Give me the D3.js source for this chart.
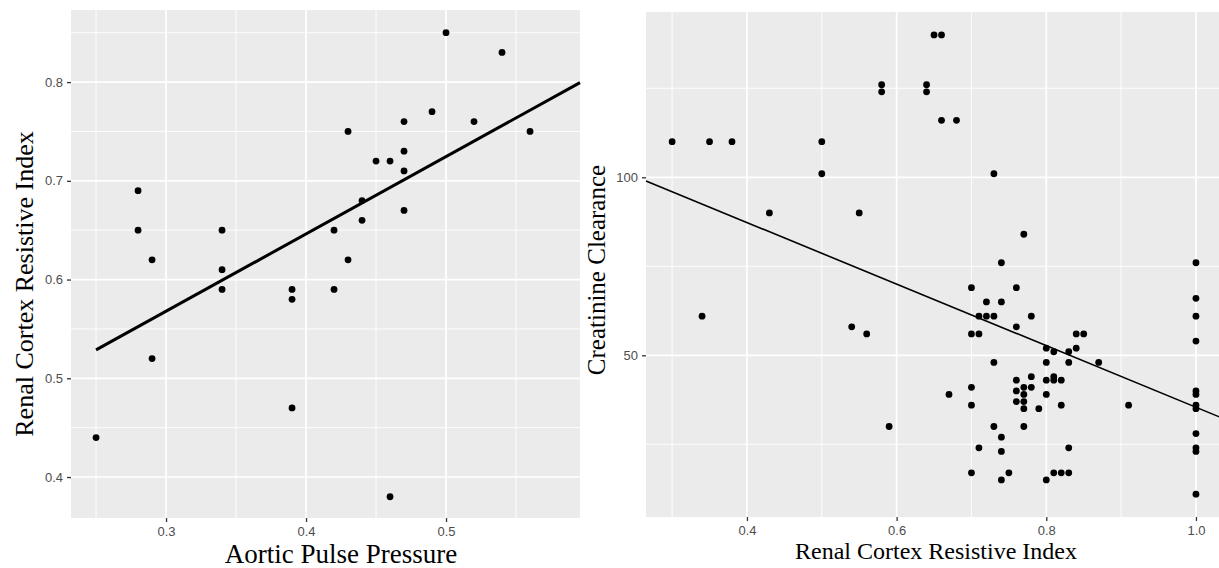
<!DOCTYPE html>
<html>
<head>
<meta charset="utf-8">
<script src="https://cdn.jsdelivr.net/npm/d3@7"></script>
<style>
html,body{margin:0;padding:0;background:#fff;}
svg{display:block;}
</style>
</head>
<body>
<svg id="chart" width="1219" height="568"></svg>
<script>
// ---------- Left panel data ----------
const leftPulsePressure = [0.25,0.28,0.28,0.29,0.29,0.34,0.34,0.34,0.39,0.39,0.39,0.42,0.42,0.43,0.43,0.44,0.44,0.45,0.46,0.46,0.47,0.47,0.47,0.47,0.49,0.50,0.52,0.54,0.56];
const leftResistiveIndex = [0.44,0.69,0.65,0.62,0.52,0.65,0.61,0.59,0.59,0.58,0.47,0.65,0.59,0.75,0.62,0.68,0.66,0.72,0.72,0.38,0.76,0.73,0.71,0.67,0.77,0.85,0.76,0.83,0.75];
const leftXTicks = [0.3,0.4,0.5];
const leftYTicks = [0.4,0.5,0.6,0.7,0.8];
const leftXMinor = [0.25,0.35,0.45,0.55];
const leftYMinor = [0.45,0.55,0.65,0.75,0.85];
const leftFit = [0.333, 0.783]; // intercept, slope

// ---------- Right panel data ----------
const rightResistiveIndex = [
 0.30,0.34,0.35,0.38,0.43,0.50,0.50,0.54,0.55,0.56,0.58,0.58,0.59,0.64,0.64,0.65,0.66,0.66,0.67,0.68,
 0.70,0.70,0.70,0.70,0.70,0.71,0.71,0.71,0.72,0.72,0.73,0.73,0.73,0.73,
 0.74,0.74,0.74,0.74,0.74,0.75,0.76,0.76,0.76,0.76,0.76,
 0.77,0.77,0.77,0.77,0.77,0.77,0.78,0.78,0.78,0.79,
 0.80,0.80,0.80,0.80,0.80,0.81,0.81,0.81,0.81,0.82,0.82,0.82,
 0.83,0.83,0.83,0.83,0.84,0.84,0.85,0.87,0.91,
 1.00,1.00,1.00,1.00,1.00,1.00,1.00,1.00,1.00,1.00,1.00,1.00];
const rightClearance = [
 110,61,110,110,90,110,101,58,90,56,126,124,30,126,124,140,140,116,39,116,
 69,56,41,36,17,61,56,24,65,61,101,61,48,30,
 76,65,27,23,15,17,69,58,43,40,37,
 84,41,39,37,35,30,61,44,41,35,
 52,48,43,39,15,51,44,43,17,43,36,17,
 51,48,24,17,56,52,56,48,36,
 76,66,61,54,40,39,36,35,28,24,23,11];
const rightXTicks = [0.4,0.6,0.8,1.0];
const rightYTicks = [50,100];
const rightXMinor = [0.3,0.5,0.7,0.9];
const rightYMinor = [25,75,125];
const rightFit = [121.9, -86.5]; // intercept, slope

const svg = d3.select("#chart");

function panel(cfg){
  const g = svg.append("g");
  const x = d3.scaleLinear().domain(cfg.xDomain).range([cfg.left, cfg.right]);
  const y = d3.scaleLinear().domain(cfg.yDomain).range([cfg.bottom, cfg.top]);
  // background
  g.append("rect").attr("x",cfg.left).attr("y",cfg.top)
    .attr("width",cfg.right-cfg.left).attr("height",cfg.bottom-cfg.top)
    .attr("fill","#EBEBEB");
  // minor grid
  g.selectAll(".vmin").data(cfg.xMinor).join("line")
    .attr("x1",d=>x(d)).attr("x2",d=>x(d)).attr("y1",cfg.top).attr("y2",cfg.bottom)
    .attr("stroke","#fff").attr("stroke-width",0.9);
  g.selectAll(".hmin").data(cfg.yMinor).join("line")
    .attr("y1",d=>y(d)).attr("y2",d=>y(d)).attr("x1",cfg.left).attr("x2",cfg.right)
    .attr("stroke","#fff").attr("stroke-width",0.9);
  // major grid
  g.selectAll(".vmaj").data(cfg.xTicks).join("line")
    .attr("x1",d=>x(d)).attr("x2",d=>x(d)).attr("y1",cfg.top).attr("y2",cfg.bottom)
    .attr("stroke","#fff").attr("stroke-width",1.7);
  g.selectAll(".hmaj").data(cfg.yTicks).join("line")
    .attr("y1",d=>y(d)).attr("y2",d=>y(d)).attr("x1",cfg.left).attr("x2",cfg.right)
    .attr("stroke","#fff").attr("stroke-width",1.7);
  // fit line
  const x0 = cfg.fitFrom, x1 = cfg.xDomain[1];
  g.append("line")
    .attr("x1",x(x0)).attr("y1",y(cfg.fit[0]+cfg.fit[1]*x0))
    .attr("x2",x(x1)).attr("y2",y(cfg.fit[0]+cfg.fit[1]*x1))
    .attr("stroke","#000").attr("stroke-width",cfg.fitWidth);
  // points
  g.selectAll(".pt").data(cfg.xs.map((v,i)=>[v,cfg.ys[i]])).join("circle")
    .attr("cx",d=>x(d[0])).attr("cy",d=>y(d[1])).attr("r",3.4).attr("fill","#000");
  // axes
  const fmt = cfg.fmtY;
  const ax = g.append("g").attr("transform",`translate(0,${cfg.bottom})`)
    .call(d3.axisBottom(x).tickValues(cfg.xTicks).tickSize(4).tickPadding(5).tickFormat(d3.format(".1f")));
  const ay = g.append("g").attr("transform",`translate(${cfg.left},0)`)
    .call(d3.axisLeft(y).tickValues(cfg.yTicks).tickSize(4).tickPadding(4).tickFormat(fmt));
  [ax,ay].forEach(a=>{
    a.select(".domain").remove();
    a.selectAll(".tick line").attr("stroke","#333").attr("stroke-width",1.3);
    a.selectAll(".tick text").attr("fill","#4D4D4D")
      .style("font-family","'Liberation Sans', Arial, sans-serif").style("font-size","13px");
  });
  // titles
  g.append("text").attr("x",cfg.xTitlePos[0]).attr("y",cfg.xTitlePos[1])
    .attr("text-anchor","middle")
    .style("font-family","'Liberation Serif','Times New Roman',serif")
    .style("font-size",cfg.xTitleSize+"px").attr("fill","#000").text(cfg.xTitle);
  g.append("text").attr("transform",`translate(${cfg.yTitlePos[0]},${cfg.yTitlePos[1]}) rotate(-90)`)
    .attr("text-anchor","middle")
    .style("font-family","'Liberation Serif','Times New Roman',serif")
    .style("font-size",cfg.yTitleSize+"px").attr("fill","#000").text(cfg.yTitle);
}

panel({
  left:71, right:580, top:10, bottom:518,
  xDomain:[0.2321,0.5957], yDomain:[0.3585,0.873],
  xTicks:leftXTicks, yTicks:leftYTicks, xMinor:leftXMinor, yMinor:leftYMinor,
  xs:leftPulsePressure, ys:leftResistiveIndex,
  fit:leftFit, fitFrom:d3.min(leftPulsePressure), fitWidth:3,
  fmtY:d3.format(".1f"),
  xTitle:"Aortic Pulse Pressure", xTitlePos:[341,563], xTitleSize:27,
  yTitle:"Renal Cortex Resistive Index", yTitlePos:[33,284], yTitleSize:26
});

panel({
  left:646, right:1222, top:12, bottom:517,
  xDomain:[0.2651,1.0348], yDomain:[4.58,146.43],
  xTicks:rightXTicks, yTicks:rightYTicks, xMinor:rightXMinor, yMinor:rightYMinor,
  xs:rightResistiveIndex, ys:rightClearance,
  fit:rightFit, fitFrom:0.2651, fitWidth:1.6,
  fmtY:d3.format("d"),
  xTitle:"Renal Cortex Resistive Index", xTitlePos:[936,559], xTitleSize:24,
  yTitle:"Creatinine Clearance", yTitlePos:[605,270], yTitleSize:25
});
</script>
</body>
</html>
